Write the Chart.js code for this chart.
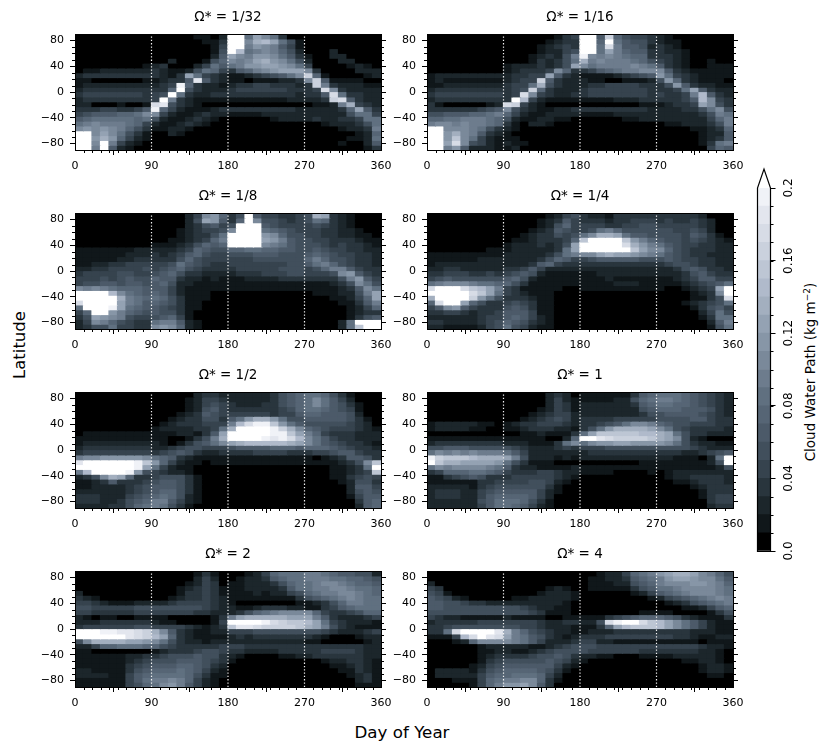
<!DOCTYPE html>
<html>
<head>
<meta charset="utf-8">
<script src="https://cdn.jsdelivr.net/npm/chart.js@4/dist/chart.umd.min.js"></script>
<style>
  body { margin: 0; background: #fff; font-family: "DejaVu Sans", sans-serif; }
  #page { position: relative; width: 831px; height: 753px; overflow: hidden; }
  canvas { position: absolute; }
  .lbl { position: absolute; color: #000; white-space: nowrap; transform-origin: center; }
  sup { font-size: 9px; line-height: 0; }
</style>
</head>
<body>
<div id="page">
  <div class="lbl" style="left:-30px;top:335px;width:100px;height:20px;line-height:20px;text-align:center;font-size:16.5px;transform:rotate(-90deg)">Latitude</div>
  <div class="lbl" style="left:302px;top:722px;width:200px;height:20px;line-height:20px;text-align:center;font-size:16.7px">Day of Year</div>
  <div class="lbl" style="left:690px;top:362px;width:240px;height:20px;line-height:20px;text-align:center;font-size:13.5px;transform:rotate(-90deg)">Cloud Water Path (kg m<sup>−2</sup>)</div>
</div>
<script>
// one character per cell, level in hundredths of kg/m2 (base 36, k = 0.20 and up)
// rows run north to south, 7.5 degrees each; columns are 10 days each, split per 90 days
const omega1_32 = [
  '000000000 000001102 kk8ca8300 000000000',
  '000000000 000000113 kkadec851 000000000',
  '000000000 000000014 kk9ba9641 000000000',
  '000000000 000000015 ke89a9752 000200000',
  '000000000 000000026 ca9bba863 100220000',
  '000000000 002000157 a9acdba85 200022000',
  '000000001 230002486 89bbccba8 400001210',
  '011222222 321125874 3679abccc a30000222',
  '233333333 3213c8432 11234568a g71000012',
  '110000001 12336i632 110111223 ag6111100',
  '122222222 234j73221 233443332 3g9322211',
  '233333333 337k53222 344444433 34ha32222',
  '344444443 45k832233 333333332 336h83322',
  '233333333 4k9321111 111111122 223gh6322',
  '220001001 hi5321000 000000000 01129d432',
  '333443346 j74211123 333333332 222237c63',
  '456667 78a a42112322 111122222 222225884',
  '678888878 521123210 000001222 232233488',
  '89a999874 211232100 000000000 001222358',
  'ababa9753 112210000 000000000 000012239',
  'kkaca8531 002100000 000000000 000000127',
  'kkbdb7421 000000000 000000000 000001128',
  'kkak94210 000000000 000000000 000010026',
  'kk9k62100 000000000 000000000 000000013'
];
const omega1_16 = [
  '000000000 000000134 kk6g75443 210000000',
  '000000000 000001233 kk7k86553 211000000',
  '000000000 000012343 kk8h96652 321000000',
  '000000000 000012245 kk8c97663 322100000',
  '000000000 000123259 ja9a98773 332100000',
  '000000000 000132358 d9a999875 432100100',
  '000000000 122232 35c a89999a98 632100111',
  '000000000 123334a73 3467899aa a63211111',
  '122222222 233 44c632 111123456 b84321111',
  '121111111 2344g6322 211001112 5b7321110',
  '112222222 3448d5322 233444433 35b632211',
  '233333333 345g73222 344444443 3348c6322',
  '344444444 34ha43223 344444443 43349e632',
  '233333333 3ke421111 111122233 33346ea43',
  '310000012 hg4210000 000000011 12334ca53',
  '333333456 a53211223 333333332 2223358a5',
  '556667789 742112222 111122222 222223598',
  '778899987 521122110 000001122 222222479',
  '9aa9a9987 310221000 000000000 011222359',
  'kkaaa9853 210000000 000000000 000011237',
  'kkbda9632 100000000 000000000 000001226',
  'kkbfa8421 110000000 000000000 000001236',
  'kkcha5421 211000000 000000000 000001389',
  'kk9b62221 120000000 000000000 000000476'
];
const omega1_8 = [
  '000000000 000024ab7 35k644334 5dc321000',
  '000000000 000025cb6 37ka55434 587321000',
  '000000000 000023564 5kkk65444 454321000',
  '000000000 000123445 akkk87654 443322100',
  '000000000 000123358 kkkkba755 443322110',
  '000000000 001123479 kkkkcb965 544333211',
  '000000000 111235767 kkkka9865 554343321',
  '111111122 222347655 778877665 565443322',
  '111111222 323467544 555666555 676544332',
  '111112233 333575444 444555555 797554332',
  '112233444 445865433 444444455 689754332',
  '223344445 456754333 344444555 457996433',
  '344445544 567533222 233344455 4445ab643',
  '444545655 766322121 112222333 333359b64',
  '455665665 675221111 111111111 111235a85',
  'a9a987776 664211111 111111111 1111236a8',
  'kkkkea876 764211100 000000000 01112259c',
  'kkkkkd987 875311100 000000000 00011247c',
  'hkkkkc986 765311000 000000000 000011369',
  '8kkkjc876 654311000 000000000 000001247',
  '47kkb9765 655310000 000000000 000001233',
  '35cba9544 567410000 000000000 000001356',
  '24a975433 899621000 000000000 000028kkk',
  '235584433 aba721000 000000000 000028fkk'
];
const omega1_4 = [
  '000000000 000001245 322133333 333332000',
  '000000000 000012364 333233444 343343200',
  '000000000 000012574 444334455 444443200',
  '000000000 000123654 458975555 554454200',
  '000000000 001233545 8addc8665 555465310',
  '000000000 011233347 fkkkkfb97 655454321',
  '000000000 122232 35c kkkkkhdb9 865443322',
  '000000011 122222 38c kkkkkkfca a75433322',
  '111111111 222223589 aacdccba9 865433222',
  '111111222 222235764 456666655 565443322',
  '122222222 222367433 333333333 345543322',
  '223322222 334642222 222222222 223565332',
  '334443343 456521111 112222222 222356433',
  '456555555 675211111 111211111 112346644',
  '89aaa9887 753111111 111122211 111234568',
  'hkkkhfec9 431111100 111111111 100123 4ck',
  'kkkkkhfc8 432111000 000000000 0000123ak',
  'dkkkkgb85 333211000 000000000 00001135h',
  '7hkkc7533 454311000 000000000 000123458',
  '46ab64333 565311000 000000000 000013564',
  '334432334 666411000 000000000 000002485',
  '222222344 676421000 000000000 000001388',
  '332222345 765321000 000000000 000000269',
  '221111245 854211000 000000000 000000158'
];
const omega1_2 = [
  '000000000 000002332 222223567 887531000',
  '000000000 000012443 222223567 8a8642000',
  '000000000 000012454 322233567 8a8653100',
  '000000000 000012564 333333457 887654100',
  '000000000 000123654 444443446 776665200',
  '000000000 001233553 68bddb855 666665310',
  '000000000 012333444 9ehjjfb86 555554320',
  '000000000 122223348 dkkkkjgda 765444321',
  '011111111 11122136c kkkkkjjfc 974333222',
  '111111111 11001359d kkkkjijhe a86433222',
  '122222222 21013568a cdeeeeedc a86543321',
  '233333333 223455444 566667776 777654332',
  '344444444 345653223 333444433 344566433',
  '9aabbbbba 876321111 111111111 101236653',
  'ikkkkkkjf b74211011 111111111 1111235af',
  'kkkkkkkjc 842110000 000000000 00011238k',
  '9ekkkkjb5 432210000 000000000 00011234f',
  '235adc733 455531000 000000000 000113454',
  '112363334 566531000 000000000 000012553',
  '112222345 666531000 000000000 000002664',
  '222222345 677531000 000000000 000002565',
  '333222456 787521000 000000000 000001466',
  '333223567 996421000 000000000 000000367',
  '222233578 985310000 000000000 000000267'
];
const omega1 = [
  '000000000 000002320 111111367 888765432',
  '000000000 000002421 111122578 998765432',
  '000000000 000002431 222222367 887765432',
  '000000000 000012431 222222256 777666532',
  '000000000 000123442 222222235 566665432',
  '000000000 001234542 333344444 555566433',
  '122222110 123344432 334568aa9 765544433',
  '122221100 112333221 358bddddc a85433332',
  '000000000 001121113 8cfffffee dc8533222',
  '111111111 111110027 kkihggggf dca521000',
  '233333333 22211138a 8abbccbbb ba8532211',
  '556665555 543222343 444555555 555543222',
  '8a9a9a999 864222222 233333333 333223456',
  'jgfffeddd c95222121 222222222 22111028k',
  'kfddccccb 853111000 000000011 11111125k',
  '8a9aaaa98 632211112 111111111 111111125',
  '347778876 433344322 111100001 012222222',
  '113456533 344444321 000000000 012233332',
  '111111334 444554210 000000000 001123332',
  '222221345 555553100 000000000 000012333',
  '233322456 666642100 000000000 000001333',
  '233322467 777642000 000000000 000001344',
  '222222568 887531000 000000000 000000344',
  '222222468 876421000 000000000 000000233'
];
const omega2 = [
  '000000000 000001310 001247888 998766552',
  '000000000 000002420 012236788 999887765',
  '000000000 000012430 112223578 89aa98776',
  '000000000 000123431 112222368 899aa9887',
  '200000000 000133431 111212245 7899aa987',
  '321000000 001233432 111111113 56789a988',
  '443211122 223444432 100000001 123579988',
  '554444455 555555432 211233322 113467888',
  '443333344 444443322 235789aaa a74334577',
  '210110011 110000013 9cdddddcc c96322234',
  '222333333 211000014 kkkkjhgff ec8432221',
  '344444455 444432123 fiihggggf dc9532111',
  'kkkjjiihg da6321122 444555555 554322234',
  'kkkkkkihg ec7321111 232333333 321000122',
  '5addddccb a85322122 222222222 110000012',
  '224778887 754333334 443333333 333333322',
  '110000000 123334554 332222333 334444322',
  '111111223 345556553 210000112 233333322',
  '111111234 555666543 100000000 001223321',
  '111111345 666776532 000000000 000112321',
  '221111356 777876421 000000000 000011321',
  '222211467 888875311 000000000 000001231',
  '111111468 99a974210 000000000 000000231',
  '111111457 8ab964210 000000000 000000111'
];
const omega4 = [
  '000000000 000000000 001224789 bcddca975',
  '000000000 000000000 011223678 9bccbaa86',
  '200000000 000000000 011122567 9aaabba97',
  '430000000 000001210 011111356 889aaaa98',
  '541000000 000012221 000000124 6789aaa98',
  '654210000 011222221 000000001 2456789a9',
  '665543322 222222210 000000000 012356789',
  '665555555 554322110 000000000 000112467',
  '555555555 555431110 000000011 110000135',
  '432211111 211110011 111345677 765321113',
  '233333444 444432233 225hjkkhf eca864211',
  '334555555 554432221 1137cefff eca864211',
  '338hkkkki d97543221 122233333 333322211',
  '1114ehkih c98653212 333444444 443321122',
  '000127aaa a98642223 442211111 111110111',
  '000000122 222112345 554444444 444443221',
  '000000112 211234555 544444433 333332210',
  '000000123 333455653 221100011 112222210',
  '000000134 555556542 100000000 000112210',
  '000001245 666666421 000000000 000001221',
  '022221356 777765310 000000000 000001221',
  '022222467 788874200 000000000 000000110',
  '000111478 99aa73100 000000000 000000000',
  '000001479 bbca63000 000000000 000000000'
];

const panelTitles = ['Ω* = 1/32', 'Ω* = 1/16', 'Ω* = 1/8', 'Ω* = 1/4', 'Ω* = 1/2', 'Ω* = 1', 'Ω* = 2', 'Ω* = 4'];
const panelRows = [omega1_32, omega1_16, omega1_8, omega1_4, omega1_2, omega1, omega2, omega4];

const dayTicks = [0, 90, 180, 270, 360];
const dayMinorTicks = [10, 20, 30, 40, 50, 60, 70, 80, 100, 110, 120, 130, 140, 150, 160, 170, 190, 200, 210, 220, 230, 240, 250, 260, 280, 290, 300, 310, 320, 330, 340, 350];
const latTicks = [-80, -40, 0, 40, 80];
const latMinorTicks = [-70, -60, -50, -30, -20, -10, 10, 20, 30, 50, 60, 70];
const seasonDays = [90, 180, 270];
const cloudLevels = [0, 0.01, 0.02, 0.03, 0.04, 0.05, 0.06, 0.07, 0.08, 0.09, 0.10, 0.11, 0.12, 0.13, 0.14, 0.15, 0.16, 0.17, 0.18, 0.19, 0.20];
const cloudTicks = [0, 0.04, 0.08, 0.12, 0.16, 0.2];
const levelColors = ['#000000', '#10171a', '#1c262b', '#29353d', '#36434e', '#414f5c', '#4c5a69', '#566575', '#607080', '#6d7c8d',
  '#7a899a', '#8796a7', '#94a2b3', '#a3afbf', '#b0bacb', '#bdc6d4', '#cad1dd', '#d7dce6', '#e3e6ee', '#f0f2f7', '#ffffff'];

const FONT = '"DejaVu Sans", sans-serif';
const LAT_STEP = 7.5;
const DAY_STEP = 10;

function tickLine(ctx, x0, y0, x1, y1) {
  ctx.beginPath();
  ctx.moveTo(x0, y0);
  ctx.lineTo(x1, y1);
  ctx.stroke();
}

// black under the cells so the joins between bars do not show white
const panelBack = {
  id: 'panelBack',
  beforeDatasetsDraw(chart) {
    const { ctx, chartArea: a } = chart;
    ctx.save();
    ctx.fillStyle = '#000';
    ctx.fillRect(a.left, a.top, a.width, a.height);
    ctx.restore();
  }
};

// minor ticks and the box round the panel
const panelFrame = {
  id: 'panelFrame',
  afterDraw(chart) {
    const { ctx, chartArea: a, scales: { x, y } } = chart;
    ctx.save();
    ctx.strokeStyle = '#000';
    ctx.lineWidth = 1;
    dayMinorTicks.forEach((d) => {
      const px = Math.round(x.getPixelForValue(d)) + 0.5;
      tickLine(ctx, px, a.bottom, px, a.bottom + 3);
    });
    latMinorTicks.forEach((l) => {
      const py = Math.round(y.getPixelForValue(l)) + 0.5;
      tickLine(ctx, a.left - 3, py, a.left, py);
      tickLine(ctx, a.right, py, a.right + 3, py);
    });
    ctx.strokeRect(Math.round(a.left) + 0.5, Math.round(a.top) + 0.5, Math.round(a.width), Math.round(a.height));
    ctx.restore();
  }
};

function cellDatasets(rows) {
  return rows.map((row, i) => {
    const cells = row.replace(/ /g, '').split('').map((c) => parseInt(c, 36));
    const hi = 90 - i * LAT_STEP;
    return {
      grouped: false,
      barPercentage: 1,
      categoryPercentage: 1,
      borderWidth: 0,
      inflateAmount: 0.6,
      backgroundColor: cells.map((v) => levelColors[v]),
      data: cells.map((v, j) => ({ x: j * DAY_STEP + DAY_STEP / 2, y: [hi - LAT_STEP, hi], level: cloudLevels[v] }))
    };
  });
}

function seasonDatasets() {
  return seasonDays.map((d) => ({
    type: 'line',
    order: -1,
    data: [{ x: d, y: -90 }, { x: d, y: 90 }],
    borderColor: '#f4f4f4',
    borderWidth: 1.2,
    borderDash: [1.3, 2],
    pointRadius: 0
  }));
}

const panelLeft = [75, 427];
const panelTop = [34, 213, 392, 571];

panelRows.forEach((rows, n) => {
  const col = n % 2, row = Math.floor(n / 2);
  const canvas = document.createElement('canvas');
  canvas.width = 386;
  canvas.height = 170;
  canvas.style.left = (panelLeft[col] - 40) + 'px';
  canvas.style.top = (panelTop[row] - 30) + 'px';
  document.getElementById('page').appendChild(canvas);

  new Chart(canvas, {
    type: 'bar',
    data: { datasets: cellDatasets(rows).concat(seasonDatasets()) },
    plugins: [panelBack, panelFrame],
    options: {
      responsive: false,
      animation: false,
      events: [],
      layout: { padding: 0 },
      plugins: {
        legend: { display: false },
        tooltip: { enabled: false },
        title: {
          display: true,
          text: panelTitles[n],
          color: '#000',
          font: { family: FONT, size: 13.5, weight: 'normal', lineHeight: 1.2 },
          padding: { top: 5.8, bottom: 8 }
        }
      },
      scales: {
        x: {
          type: 'linear',
          offset: false,
          min: 0,
          max: 360,
          afterBuildTicks: (s) => { s.ticks = dayTicks.map((v) => ({ value: v })); },
          afterFit: (s) => { s.height = 24; },
          grid: { drawOnChartArea: false, tickLength: 5, tickColor: '#000' },
          border: { color: '#000' },
          ticks: { color: '#000', font: { family: FONT, size: 11 }, padding: 5, maxRotation: 0, autoSkip: false }
        },
        y: {
          min: -90,
          max: 90,
          afterBuildTicks: (s) => { s.ticks = latTicks.map((v) => ({ value: v })); },
          afterFit: (s) => { s.width = 40; },
          grid: { drawOnChartArea: false, tickLength: 5, tickColor: '#000' },
          border: { color: '#000' },
          ticks: {
            color: '#000',
            font: { family: FONT, size: 11 },
            padding: 6,
            autoSkip: false,
            callback: (v) => String(v).replace('-', '−')
          }
        },
        yRight: {
          type: 'linear',
          position: 'right',
          min: -90,
          max: 90,
          afterBuildTicks: (s) => { s.ticks = latTicks.map((v) => ({ value: v })); },
          afterFit: (s) => { s.width = 40; },
          grid: { drawOnChartArea: false, tickLength: 5, tickColor: '#000' },
          border: { color: '#000' },
          ticks: { autoSkip: false, callback: () => '' }
        }
      }
    }
  });
});

// colour bar
const barCanvas = document.createElement('canvas');
barCanvas.width = 80;
barCanvas.height = 400;
barCanvas.style.left = '745px';
barCanvas.style.top = '160px';
document.getElementById('page').appendChild(barCanvas);

const barFrame = {
  id: 'barFrame',
  afterDraw(chart) {
    const { ctx, chartArea: a, scales: { y } } = chart;
    ctx.save();
    ctx.strokeStyle = '#000';
    ctx.lineWidth = 1;
    cloudLevels.forEach((v) => {
      const py = Math.round(y.getPixelForValue(v)) + 0.5;
      tickLine(ctx, a.right, py, a.right + 3, py);
    });
    const midX = (a.left + a.right) / 2;
    ctx.lineWidth = 1.2;
    ctx.beginPath();
    ctx.moveTo(a.left, a.bottom + 0.5);
    ctx.lineTo(a.left, a.top);
    ctx.lineTo(midX, a.top - 19);
    ctx.lineTo(a.right, a.top);
    ctx.lineTo(a.right, a.bottom + 0.5);
    ctx.closePath();
    ctx.stroke();
    ctx.restore();
  }
};
const extendArrow = {
  id: 'extendArrow',
  beforeDatasetsDraw(chart) {
    const { ctx, chartArea: a } = chart;
    ctx.save();
    ctx.fillStyle = levelColors[20];
    ctx.beginPath();
    ctx.moveTo(a.left, a.top);
    ctx.lineTo((a.left + a.right) / 2, a.top - 19);
    ctx.lineTo(a.right, a.top);
    ctx.closePath();
    ctx.fill();
    ctx.restore();
  }
};

new Chart(barCanvas, {
  type: 'bar',
  data: {
    labels: ['level'],
    datasets: cloudLevels.slice(0, 20).map((v, i) => ({
      grouped: false,
      barPercentage: 1,
      categoryPercentage: 1,
      borderWidth: 0,
      backgroundColor: levelColors[i],
      data: [[v, cloudLevels[i + 1]]]
    }))
  },
  plugins: [extendArrow, barFrame],
  options: {
    responsive: false,
    animation: false,
    events: [],
    layout: { padding: { left: 12.5, right: 14.5, top: 28, bottom: 9 } },
    plugins: { legend: { display: false }, tooltip: { enabled: false } },
    scales: {
      x: { display: false },
      y: {
        position: 'right',
        min: 0,
        max: 0.2,
        afterBuildTicks: (s) => { s.ticks = cloudTicks.map((v) => ({ value: v })); },
        afterFit: (s) => { s.width = 40; },
        grid: { drawOnChartArea: false, tickLength: 5, tickColor: '#000' },
        border: { color: '#000' },
        ticks: {
          color: '#000',
          font: { family: FONT, size: 12 },
          padding: 0,
          minRotation: 90,
          maxRotation: 90,
          crossAlign: 'center',
          autoSkip: false,
          callback: (v) => (v === 0 ? '0.0' : String(v))
        }
      }
    }
  }
});
</script>
</body>
</html>
